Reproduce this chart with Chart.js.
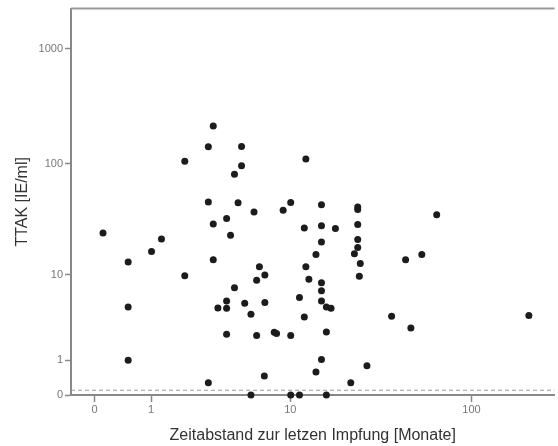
<!DOCTYPE html>
<html>
<head>
<meta charset="utf-8">
<script src="https://cdn.jsdelivr.net/npm/chart.js@4.4.0/dist/chart.umd.min.js"></script>
<style>
  body { margin: 0; background: #fff; }
</style>
</head>
<body>
<canvas id="ttakChart" width="558" height="446"></canvas>
<script>
// months since last vaccination (x) and TTAK in IE/ml (y), one entry per point
var monate = [0.11, 0.51, 0.51, 0.51, 1.01, 1.27, 2.02, 2.02, 3.03, 3.03,
              3.03, 3.28, 3.28, 3.28, 3.53, 4.04, 4.04, 4.04, 4.04, 4.29,
              4.55, 4.55, 4.8, 5.05, 5.05, 5.29, 5.79, 5.79, 6.05, 6.28,
              6.28, 6.53, 7.05, 7.05, 7.0, 8.03, 8.29, 9.07, 10.05, 10.05,
              10.05, 11.3, 11.3, 12.05, 12.05, 12.3, 12.3, 12.8, 14.05, 14.05,
              15.1, 15.1, 15.1, 15.1, 15.1, 15.1, 15.1, 16.1, 16.1, 16.1,
              17.1, 18.1, 22.05, 23.1, 24.1, 24.1, 24.1, 24.1, 24.1, 24.9,
              24.6, 27.1, 37, 44.1, 47.1, 54, 65, 203];
var ttak = [24.3, 13.2, 4.8, 1.0, 16.5, 21.5, 105, 9.8, 141, 46,
            0.28, 213, 29.3, 13.9, 4.68, 32.9, 5.53, 4.64, 2.36, 23.3,
            81, 7.5, 45.4, 141.6, 96, 5.23, 4.0, 0, 37.5, 8.86,
            2.28, 11.9, 9.96, 5.32, 0.46, 2.5, 2.41, 39, 45.7, 2.28,
            0, 5.99, 0, 27, 3.75, 110, 11.9, 9.06, 15.5, 0.58,
            43.6, 28.3, 20.2, 8.4, 7.0, 5.53, 1.03, 4.8, 2.52, 0,
            4.64, 26.8, 0.28, 15.8, 41.5, 39.6, 29.1, 21.3, 18.0, 12.8,
            9.7, 0.79, 3.81, 13.9, 2.81, 15.5, 35.5, 3.88];

var xTicks = [0, 1, 10, 100];
var yTicks = [0, 1, 10, 100, 1000];
var cutoff = 0.1;

// both axes are log(value + 1)
function tf(v) { return Math.log10(v + 1); }

var points = monate.map(function (m, i) {
    return { x: tf(m), y: tf(ttak[i]) };
});

var frameAndCutoff = {
    id: 'frameAndCutoff',
    beforeDatasetsDraw: function (chart) {
        var ctx = chart.ctx, area = chart.chartArea;
        var yc = chart.scales.y.getPixelForValue(tf(cutoff));
        ctx.save();
        ctx.strokeStyle = '#9a9a9a';
        ctx.lineWidth = 1;
        ctx.setLineDash([4, 3]);
        ctx.beginPath();
        ctx.moveTo(area.left, yc);
        ctx.lineTo(area.right, yc);
        ctx.stroke();
        ctx.setLineDash([]);
        ctx.strokeStyle = '#999';
        ctx.lineWidth = 2;
        ctx.beginPath();
        ctx.moveTo(area.left, area.top);
        ctx.lineTo(area.right, area.top);
        ctx.stroke();
        ctx.restore();
    }
};

Chart.defaults.font.family = '"Liberation Sans", Arial, sans-serif';

var ctx = document.getElementById('ttakChart').getContext('2d');
var chart = new Chart(ctx, {
    type: 'scatter',
    data: {
        datasets: [{
            data: points,
            pointRadius: 3.5,
            pointHoverRadius: 3.5,
            backgroundColor: '#1c1c1c',
            borderWidth: 0,
            clip: false
        }]
    },
    options: {
        responsive: false,
        animation: false,
        layout: { padding: { top: 8, left: 0, right: 0, bottom: 0 } },
        plugins: {
            legend: { display: false },
            tooltip: { enabled: false }
        },
        scales: {
            x: {
                type: 'linear',
                min: -0.125,
                max: 2.446,
                afterBuildTicks: function (scale) {
                    scale.ticks = xTicks.map(function (v) { return { value: tf(v) }; });
                },
                afterFit: function (scale) { scale.height = 51; },
                border: { display: true, color: '#888', width: 2 },
                grid: { drawOnChartArea: false, drawTicks: true, tickLength: 7, tickColor: '#888', tickWidth: 1.5 },
                ticks: {
                    autoSkip: false,
                    maxRotation: 0,
                    color: '#777',
                    font: { size: 11 },
                    padding: 1,
                    callback: function (value, index) { return String(xTicks[index]); }
                },
                title: {
                    display: true,
                    text: 'Zeitabstand zur letzen Impfung [Monate]',
                    color: '#333',
                    font: { size: 16 },
                    padding: { top: 0, bottom: 1 }
                }
            },
            y: {
                type: 'linear',
                min: 0,
                max: 3.349,
                afterBuildTicks: function (scale) {
                    scale.ticks = yTicks.map(function (v) { return { value: tf(v) }; });
                },
                afterFit: function (scale) { scale.width = 71; },
                border: { display: true, color: '#888', width: 2 },
                grid: { drawOnChartArea: false, drawTicks: true, tickLength: 6, tickColor: '#888', tickWidth: 1.5 },
                ticks: {
                    autoSkip: false,
                    color: '#777',
                    font: { size: 11 },
                    padding: 2,
                    callback: function (value, index) { return String(yTicks[index]); }
                },
                title: {
                    display: true,
                    text: 'TTAK [IE/ml]',
                    color: '#333',
                    font: { size: 16 },
                    padding: { top: 13, bottom: 0 }
                }
            }
        }
    },
    plugins: [frameAndCutoff]
});
</script>
</body>
</html>
